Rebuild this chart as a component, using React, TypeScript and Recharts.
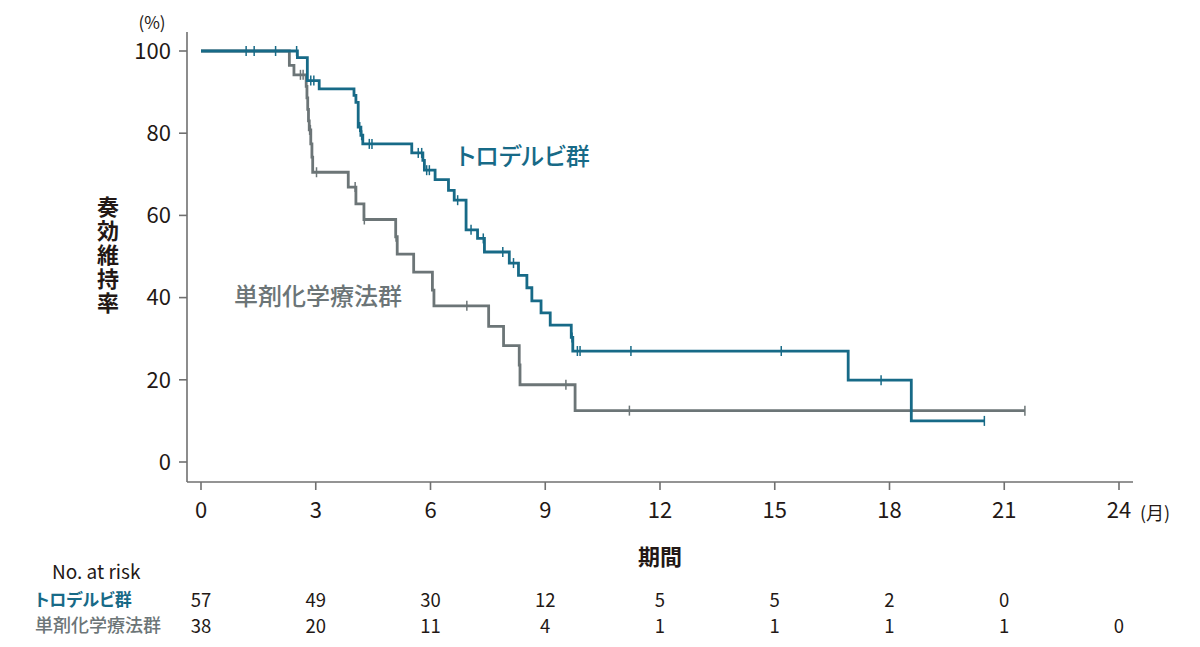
import { ComposedChart, Line, Scatter, XAxis, YAxis } from "recharts";

const FONT = "'Noto Sans CJK JP', 'Noto Sans', sans-serif";
const TEAL = "#176a87";
const GRAY = "#6c7577";
const INK = "#231815";
const AXIS = "#707070";

// months shown on the x axis and in the at-risk table
const months = [0, 3, 6, 9, 12, 15, 18, 21, 24];
const percentTicks = [0, 20, 40, 60, 80, 100];

// トロデルビ群: event times (months) and survival (%) after each step
const tealTimes = [2.52, 2.78, 3.09, 4.0, 4.05, 4.11, 4.18, 4.23, 5.51, 5.8, 5.84, 6.12, 6.47, 6.62, 6.93, 7.23, 7.41, 8.06, 8.3, 8.52, 8.65, 8.89, 9.13, 9.68, 9.72, 16.92, 18.57];
const tealLevels = [98.4, 92.8, 90.8, 89.2, 87.5, 81.5, 79.5, 77.4, 75.2, 73.4, 71.0, 68.7, 66.1, 63.7, 56.5, 54.4, 51.1, 48.4, 45.4, 42.4, 39.2, 36.3, 33.3, 30.3, 27.0, 19.9, 10.0];
const tealCensored = [1.18, 1.39, 1.95, 2.5, 2.87, 2.95, 4.15, 4.2, 4.4, 4.47, 5.68, 5.77, 5.9, 5.97, 6.71, 7.06, 7.38, 7.89, 8.17, 9.7, 9.84, 9.91, 11.24, 15.17, 17.78, 20.48];

// 単剤化学療法群
const grayTimes = [2.31, 2.43, 2.75, 2.77, 2.79, 2.81, 2.83, 2.87, 2.9, 2.92, 3.85, 4.05, 4.26, 5.09, 5.13, 5.56, 6.05, 6.09, 7.52, 7.91, 8.32, 8.34, 9.78];
const grayLevels = [96.5, 94.2, 91.4, 88.6, 85.8, 83.0, 80.8, 77.4, 74.2, 70.5, 66.9, 62.8, 59.0, 54.8, 50.6, 46.2, 41.8, 38.0, 33.0, 28.3, 23.6, 18.8, 12.5];
const grayCensored = [2.6, 2.67, 2.84, 2.86, 3.02, 4.03, 4.27, 5.1, 6.95, 9.54, 11.2, 21.54];

// number at risk
const tealAtRisk = [57, 49, 30, 12, 5, 5, 2, 0, null];
const grayAtRisk = [38, 20, 11, 4, 1, 1, 1, 1, 0];

type Pt = { t: number; s: number };

function levelAt(times: number[], levels: number[], t: number) {
  let s = 100;
  times.forEach((tt, i) => {
    if (tt <= t) s = levels[i];
  });
  return s;
}

function curve(times: number[], levels: number[], censored: number[]): Pt[] {
  const pts: Pt[] = [{ t: 0, s: 100 }];
  times.forEach((t, i) => pts.push({ t, s: levels[i] }));
  const end = Math.max(...censored, ...times);
  pts.push({ t: end, s: levels[levels.length - 1] });
  return pts;
}

function marks(times: number[], levels: number[], censored: number[]): Pt[] {
  return censored.map((t) => ({ t, s: levelAt(times, levels, t) }));
}

const tealCurve = curve(tealTimes, tealLevels, tealCensored);
const grayCurve = curve(grayTimes, grayLevels, grayCensored);
const tealMarks = marks(tealTimes, tealLevels, tealCensored);
const grayMarks = marks(grayTimes, grayLevels, grayCensored);

function CensorMark(props: any) {
  const { cx, cy, color } = props;
  if (cx == null || cy == null) return null;
  return <line x1={cx} x2={cx} y1={cy - 5} y2={cy + 5} stroke={color} strokeWidth={1.5} />;
}

function MonthTick(props: any) {
  const { x, y, payload } = props;
  const i = months.indexOf(payload.value);
  const a = tealAtRisk[i];
  const b = grayAtRisk[i];
  return (
    <g fontFamily={FONT}>
      <text x={x} y={y + 28} textAnchor="middle" fontSize={22} fill={INK}>
        {payload.value}
      </text>
      {a != null && (
        <text x={x} y={y + 117} textAnchor="middle" fontSize={18.5} fill={INK}>
          {a}
        </text>
      )}
      {b != null && (
        <text x={x} y={y + 143} textAnchor="middle" fontSize={18.5} fill={INK}>
          {b}
        </text>
      )}
    </g>
  );
}

export default function App() {
  return (
    <div style={{ position: "absolute", left: 0, top: 0, width: 1200, height: 647, background: "#fff" }}>
      <ComposedChart
        width={1200}
        height={647}
        margin={{ top: 32, right: 67, bottom: 135, left: 127 }}
      >
        <XAxis
          type="number"
          dataKey="t"
          domain={[0, 24]}
          ticks={months}
          padding={{ left: 14, right: 14 }}
          height={30}
          tickSize={8}
          tickMargin={0}
          axisLine={{ stroke: AXIS, strokeWidth: 1.6 }}
          tickLine={{ stroke: AXIS, strokeWidth: 1.6 }}
          tick={<MonthTick />}
          interval={0}
        />
        <YAxis
          type="number"
          domain={[0, 100]}
          ticks={percentTicks}
          padding={{ top: 19, bottom: 20 }}
          width={60}
          tickSize={8}
          tickMargin={8}
          axisLine={{ stroke: AXIS, strokeWidth: 1.6 }}
          tickLine={{ stroke: AXIS, strokeWidth: 1.6 }}
          tick={{ fontSize: 22, fill: INK, fontFamily: FONT }}
          interval={0}
        />
        <Line
          data={grayCurve}
          dataKey="s"
          type="stepAfter"
          stroke={GRAY}
          strokeWidth={2.8}
          dot={false}
          activeDot={false}
          isAnimationActive={false}
        />
        <Line
          data={tealCurve}
          dataKey="s"
          type="stepAfter"
          stroke={TEAL}
          strokeWidth={2.8}
          dot={false}
          activeDot={false}
          isAnimationActive={false}
        />
        <Scatter
          data={grayMarks}
          dataKey="s"
          shape={(p: any) => <CensorMark {...p} color={GRAY} />}
          isAnimationActive={false}
        />
        <Scatter
          data={tealMarks}
          dataKey="s"
          shape={(p: any) => <CensorMark {...p} color={TEAL} />}
          isAnimationActive={false}
        />
      </ComposedChart>
      <svg
        width={1200}
        height={647}
        style={{ position: "absolute", left: 0, top: 0, pointerEvents: "none" }}
        fontFamily={FONT}
      >
        <text x={152} y={21} textAnchor="middle" dominantBaseline="central" fontSize={17} fill={INK}>
          (%)
        </text>
        <text x={1140} y={512} dominantBaseline="central" fontSize={18} fill={INK}>
          (月)
        </text>
        <text
          x={108}
          y={256}
          textAnchor="middle"
          fontSize={22}
          fontWeight={700}
          fill={INK}
          style={{ writingMode: "vertical-rl", letterSpacing: 2 }}
        >
          奏効維持率
        </text>
        <text x={660} y={555} textAnchor="middle" dominantBaseline="central" fontSize={22} fontWeight={700} fill={INK}>
          期間
        </text>
        <text
          x={457}
          y={154}
          dominantBaseline="central"
          fontSize={24}
          fontWeight={500}
          fill={TEAL}
          style={{ fontFeatureSettings: '"palt"' }}
        >
          トロデルビ群
        </text>
        <text x={234} y={294} dominantBaseline="central" fontSize={24} fontWeight={500} fill={GRAY}>
          単剤化学療法群
        </text>
        <text x={52} y={579} fontSize={19} fill={INK}>
          No. at risk
        </text>
        <text
          x={35}
          y={606}
          fontSize={17}
          fontWeight={700}
          fill={TEAL}
          style={{ fontFeatureSettings: '"palt"' }}
        >
          トロデルビ群
        </text>
        <text x={35} y={632} fontSize={18} fontWeight={500} fill={GRAY}>
          単剤化学療法群
        </text>
      </svg>
    </div>
  );
}
